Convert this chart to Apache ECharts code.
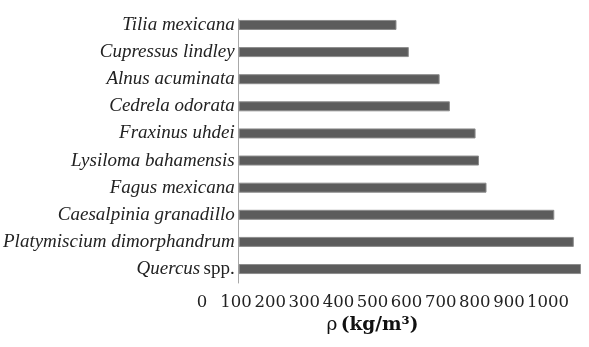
<!DOCTYPE html>
<html>
<head>
<meta charset="utf-8">
<script src="https://cdn.jsdelivr.net/npm/echarts@6/dist/echarts.min.js"></script>
<style>html,body{margin:0;padding:0;background:#fff;}#c{width:589px;height:347px;}</style>
</head>
<body>
<div id="c"></div>
<script>
const species = ['Tilia mexicana','Cupressus lindley','Alnus acuminata','Cedrela odorata','Fraxinus uhdei','Lysiloma bahamensis','Fagus mexicana','Caesalpinia granadillo','Platymiscium dimorphandrum','Quercus spp.'];
const density = [461, 497, 587, 617, 692, 702, 724, 922, 979, 1000];
const tickLabels = ['0','100','200','300','400','500','600','700','800','900','1000'];
const axisTitle = 'ρ (kg/m³)';

const chart = echarts.init(document.getElementById('c'));
chart.setOption({
  animation: false,
  backgroundColor: '#fff',
  grid: [
    {left: 238, top: 11.4, width: 343, height: 271.2},
    {left: 202, top: 290, width: 341, height: 1},
    {left: 238, top: 19, width: 10, height: 264}
  ],
  xAxis: [
    {gridIndex: 0, type: 'value', min: 0, max: 1000, show: false, splitLine: {show: false}},
    {gridIndex: 1, type: 'category', data: tickLabels, boundaryGap: false,
     axisLine: {show: false}, axisTick: {show: false}, splitLine: {show: false},
     axisLabel: {interval: 0, margin: 3, fontFamily: 'DejaVu Serif', fontSize: 16.5, color: '#222',
       formatter: function (v) { return v === '1000' ? '{p|' + v + '}' : v; },
       rich: {p: {fontFamily: 'DejaVu Serif', fontSize: 16.5, color: '#222', padding: [0, 0, 0, 10]}}},
     name: '{r|ρ} {b|(kg/m³)}', nameLocation: 'middle', nameGap: 25,
     nameTextStyle: {rich: {
       r: {fontFamily: 'DejaVu Serif', fontSize: 18.5, color: '#111'},
       b: {fontFamily: 'DejaVu Serif', fontWeight: 'bold', fontSize: 18.5, color: '#111'}
     }}},
    {gridIndex: 2, type: 'value', min: 0, max: 1, show: false}
  ],
  yAxis: [
    {gridIndex: 0, type: 'category', data: species, inverse: true,
     axisLine: {show: false}, axisTick: {show: false},
     axisLabel: {margin: 4, color: '#222',
       formatter: function (v) {
         if (v.endsWith(' spp.')) return '{i|' + v.slice(0, -5) + '} {n|spp.}';
         return '{i|' + v + '}';
       },
       rich: {
         i: {fontFamily: 'Liberation Serif', fontStyle: 'italic', fontSize: 19, color: '#222'},
         n: {fontFamily: 'Liberation Serif', fontSize: 19, color: '#222'}
       }}},
    {gridIndex: 1, type: 'value', show: false},
    {gridIndex: 2, type: 'value', min: 0, max: 1,
     axisLine: {show: true, lineStyle: {color: '#a8a8a8', width: 1}},
     axisTick: {show: false}, axisLabel: {show: false}, splitLine: {show: false}}
  ],
  series: [{
    type: 'bar', xAxisIndex: 0, yAxisIndex: 0,
    data: density, barWidth: 10,
    itemStyle: {color: '#5c5c5c', borderColor: '#8c8c8c', borderWidth: 1}
  }]
});
</script>
</body>
</html>
